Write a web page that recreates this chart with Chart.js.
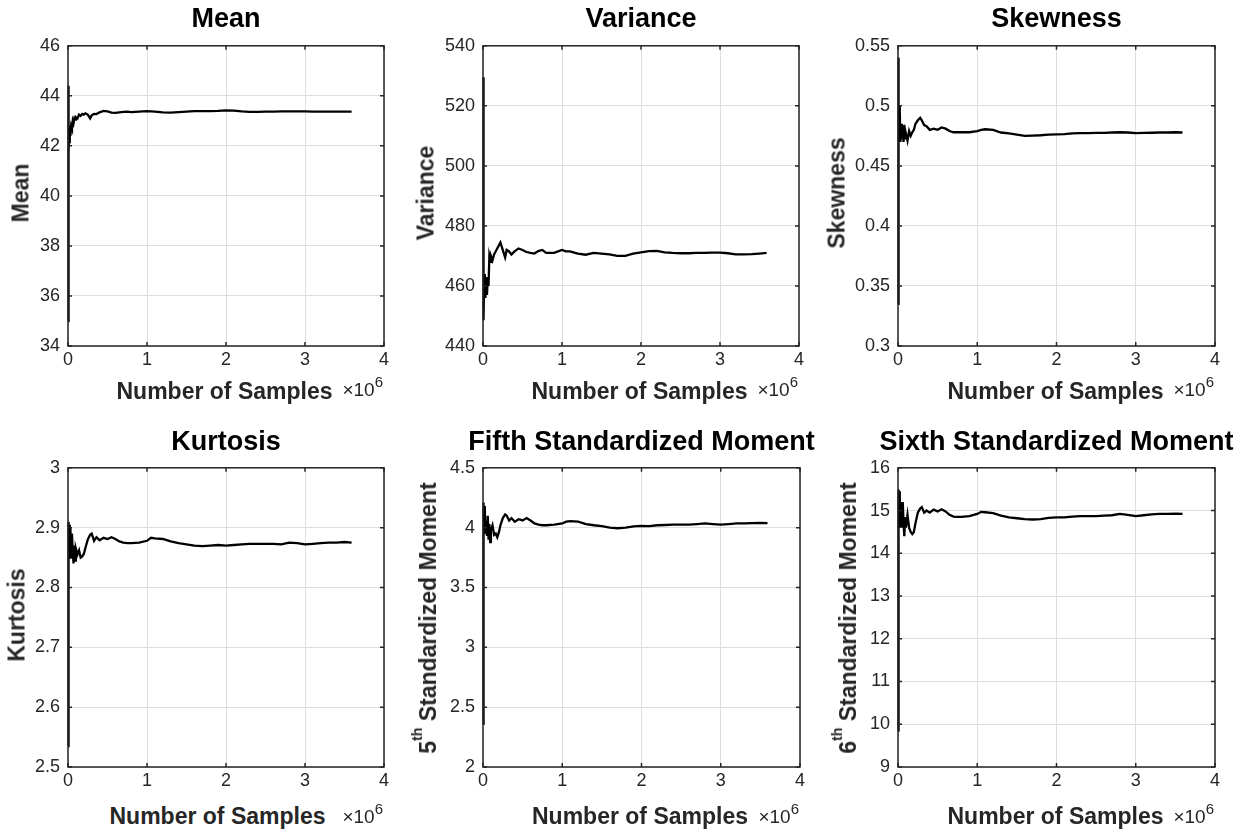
<!DOCTYPE html>
<html>
<head>
<meta charset="utf-8">
<script src="https://cdn.jsdelivr.net/npm/chart.js@4/dist/chart.umd.min.js"></script>
<style>
  html,body{margin:0;padding:0;background:#fff;}
  body{width:1250px;height:833px;position:relative;overflow:hidden;font-family:"Liberation Sans",Arial,sans-serif;}
  .ttl{position:absolute;font-weight:bold;font-size:27px;line-height:27px;color:#000;white-space:nowrap;transform:translateX(-50%);}
  .xl{position:absolute;font-weight:bold;font-size:23px;line-height:23px;color:#262626;white-space:nowrap;transform:translateX(-50%);}
  .ex{position:absolute;font-size:19px;line-height:19px;color:#262626;white-space:nowrap;transform:translateX(-100%);}
  .ex span{font-size:15px;position:relative;top:-9px;}
  .yl{position:absolute;font-weight:bold;font-size:23px;line-height:23px;color:#262626;white-space:nowrap;transform:translate(-50%,-50%) rotate(-90deg);}
  .yl .sup{font-size:14px;position:relative;top:-14px;}
</style>
</head>
<body>
<script>
// ---------------- DATA ----------------
// Number of samples (x 10^6)
const samples = [0.001, 0.003, 0.005, 0.008, 0.012, 0.016, 0.02, 0.025, 0.03, 0.04,
  0.05, 0.06, 0.07, 0.08, 0.09, 0.1, 0.12, 0.14, 0.16, 0.18,
  0.2, 0.22, 0.25, 0.28, 0.3, 0.33, 0.36, 0.4, 0.45, 0.5,
  0.55, 0.6, 0.65, 0.7, 0.75, 0.8, 0.9, 1.0, 1.05, 1.1,
  1.2, 1.3, 1.4, 1.5, 1.6, 1.7, 1.8, 1.9, 2.0, 2.1,
  2.2, 2.3, 2.4, 2.5, 2.6, 2.7, 2.8, 2.9, 3.0, 3.1,
  3.2, 3.3, 3.4, 3.5, 3.59];

const meanValues = [35.0, 44.4, 38.5, 43.6, 41.7, 42.8, 42.1, 42.7, 42.4, 42.8,
  42.7, 43.0, 42.9, 43.1, 43.05, 43.15, 43.1, 43.25, 43.2, 43.28,
  43.25, 43.3, 43.25, 43.1, 43.22, 43.28, 43.27, 43.34, 43.4, 43.38,
  43.33, 43.32, 43.34, 43.36, 43.37, 43.35, 43.37, 43.39, 43.38, 43.37,
  43.34, 43.33, 43.35, 43.37, 43.39, 43.39, 43.39, 43.4, 43.42, 43.41,
  43.38, 43.36, 43.36, 43.37, 43.37, 43.38, 43.38, 43.38, 43.38, 43.37,
  43.37, 43.37, 43.37, 43.37, 43.37];

const varianceValues = [449, 529.5, 452, 492, 449.5, 463, 458, 464, 456, 463,
  457, 462, 460, 469.5, 468, 470, 468.5, 470.5, 471.5, 472.5,
  473.5, 474.5, 472, 469.5, 472, 471.5, 470.5, 471.5, 472.5, 472,
  471.3, 471, 470.8, 471.6, 472, 471, 471, 472, 471.5, 471.5,
  470.8, 470.4, 471, 470.8, 470.5, 470, 470, 470.8, 471.2, 471.6,
  471.7, 471.2, 471, 470.9, 470.9, 471, 471, 471.1, 471.1, 470.9,
  470.5, 470.5, 470.6, 470.8, 471];

const skewnessValues = [0.335, 0.54, 0.43, 0.505, 0.47, 0.5, 0.478, 0.495, 0.47, 0.485,
  0.472, 0.482, 0.47, 0.484, 0.473, 0.477, 0.471, 0.479, 0.475, 0.478,
  0.48, 0.485, 0.488, 0.49, 0.488, 0.484, 0.483, 0.48, 0.481, 0.48,
  0.482, 0.481, 0.479, 0.478, 0.478, 0.478, 0.478, 0.479, 0.48, 0.4805,
  0.48, 0.4778, 0.477, 0.476, 0.475, 0.4752, 0.4755, 0.476, 0.4762, 0.4765,
  0.477, 0.4772, 0.4772, 0.4775, 0.4775, 0.4778, 0.478, 0.4778, 0.4772, 0.4775,
  0.4776, 0.4778, 0.4778, 0.478, 0.4778];

const kurtosisValues = [2.535, 2.73, 2.6, 2.88, 2.91, 2.85, 2.905, 2.86, 2.9, 2.85,
  2.89, 2.86, 2.84, 2.87, 2.845, 2.865, 2.855, 2.862, 2.85, 2.852,
  2.856, 2.866, 2.88, 2.888, 2.89, 2.878, 2.884, 2.879, 2.883, 2.881,
  2.884, 2.881, 2.877, 2.875, 2.874, 2.874, 2.875, 2.878, 2.883, 2.882,
  2.881, 2.877, 2.874, 2.872, 2.870, 2.869, 2.870, 2.871, 2.870, 2.871,
  2.872, 2.873, 2.873, 2.873, 2.873, 2.872, 2.875, 2.874, 2.872, 2.873,
  2.874, 2.875, 2.875, 2.876, 2.875];

const fifthValues = [2.36, 3.9, 3.2, 4.21, 3.95, 4.15, 3.98, 4.18, 3.95, 4.05,
  3.93, 4.1, 3.9, 4.03, 3.88, 3.98, 4.02, 3.94, 3.95, 3.92,
  3.96, 4.02, 4.08, 4.11, 4.1, 4.06, 4.08, 4.05, 4.07, 4.06,
  4.08, 4.06, 4.035, 4.025, 4.02, 4.02, 4.025, 4.035, 4.05, 4.055,
  4.05, 4.03, 4.02, 4.012, 4.0, 3.995, 4.0, 4.01, 4.015, 4.012,
  4.02, 4.022, 4.025, 4.025, 4.025, 4.03, 4.035, 4.03, 4.025, 4.03,
  4.035, 4.035, 4.038, 4.04, 4.038];

const sixthValues = [9.85, 12.5, 10.5, 15.49, 14.7, 15.45, 14.6, 15.3, 14.7, 15.2,
  14.6, 15.2, 14.7, 14.4, 14.85, 14.6, 14.9, 14.6, 14.5, 14.45,
  14.5, 14.7, 14.95, 15.05, 15.08, 14.95, 15.0, 14.95, 15.02, 14.98,
  15.03, 14.98, 14.9, 14.86, 14.85, 14.85, 14.87, 14.92, 14.97, 14.96,
  14.94, 14.88, 14.84, 14.82, 14.8, 14.79, 14.8, 14.83, 14.84, 14.84,
  14.86, 14.87, 14.87, 14.87, 14.88, 14.89, 14.92, 14.9, 14.87, 14.89,
  14.91, 14.92, 14.92, 14.93, 14.92];

// tick labels
const xTicks = [0, 1, 2, 3, 4];
const meanTicks = [34, 36, 38, 40, 42, 44, 46];
const varianceTicks = [440, 460, 480, 500, 520, 540];
const skewnessTicks = [0.3, 0.35, 0.4, 0.45, 0.5, 0.55];
const kurtosisTicks = [2.5, 2.6, 2.7, 2.8, 2.9, 3];
const fifthTicks = [2, 2.5, 3, 3.5, 4, 4.5];
const sixthTicks = [9, 10, 11, 12, 13, 14, 15, 16];

// texts
const titles = ['Mean', 'Variance', 'Skewness', 'Kurtosis', 'Fifth Standardized Moment', 'Sixth Standardized Moment'];
const yLabelPrefix = ['', '', '', '', '5', '6'];
const yLabelSup = ['', '', '', '', 'th', 'th'];
const yLabelMain = ['Mean', 'Variance', 'Skewness', 'Kurtosis', ' Standardized Moment', ' Standardized Moment'];
const xLabel = 'Number of Samples';
const xExponent = '6';

// ---------------- LAYOUT ----------------
const seriesList = [meanValues, varianceValues, skewnessValues, kurtosisValues, fifthValues, sixthValues];
const tickList = [meanTicks, varianceTicks, skewnessTicks, kurtosisTicks, fifthTicks, sixthTicks];
const boxes = [
  {L:68,  T:41,  R:384,  B:346},
  {L:483, T:41,  R:799,  B:346},
  {L:898, T:41,  R:1215, B:346},
  {L:68,  T:463, R:384,  B:767},
  {L:483, T:463, R:800,  B:767},
  {L:898, T:463, R:1215, B:767}
];
const titleTop = [4.8, 427.8];
const xLabelTop = [380, 804.5];
const expTop = [380, 807];
const yLabelX = [20.5, 425.5, 837, 17, 430, 850];
const yLabelY = [192.5, 192.5, 193, 615, 618, 618];
const xLabelShift = [-1.5, -1.5, -1, -8.5, -1.5, -1];

const PAD_L = 62, PAD_T = 14, PAD_R = 16, PAD_B = 34;
const tickFont = {family: '"Liberation Sans", Arial, sans-serif', size: 18};

const boxPlugin = {
  id: 'matlabBox',
  afterDatasetsDraw(chart) {
    const {ctx, chartArea: a, scales: {x, y}} = chart;
    const tl = 4;
    ctx.save();
    ctx.strokeStyle = '#262626';
    ctx.lineWidth = 1.5;
    ctx.beginPath();
    x.ticks.forEach(t => {
      const px = x.getPixelForValue(t.value);
      ctx.moveTo(px, a.bottom); ctx.lineTo(px, a.bottom - tl);
      ctx.moveTo(px, a.top); ctx.lineTo(px, a.top + tl);
    });
    y.ticks.forEach(t => {
      const py = y.getPixelForValue(t.value);
      ctx.moveTo(a.left, py); ctx.lineTo(a.left + tl, py);
      ctx.moveTo(a.right, py); ctx.lineTo(a.right - tl, py);
    });
    ctx.stroke();
    ctx.strokeRect(a.left, a.top, a.right - a.left, a.bottom - a.top);
    ctx.restore();
  }
};

function addDiv(cls, html, left, top) {
  const d = document.createElement('div');
  d.className = cls;
  d.innerHTML = html;
  d.style.left = left + 'px';
  d.style.top = top + 'px';
  document.body.appendChild(d);
  return d;
}

boxes.forEach((p, i) => {
  const row = i < 3 ? 0 : 1;
  const w = p.R - p.L + PAD_L + PAD_R;
  const h = p.B - p.T + PAD_T + PAD_B;
  const cv = document.createElement('canvas');
  cv.width = w; cv.height = h;
  cv.style.cssText = `position:absolute;left:${p.L - PAD_L}px;top:${p.T - PAD_T}px;width:${w}px;height:${h}px;`;
  document.body.appendChild(cv);

  const ticks = tickList[i];
  const vals = seriesList[i];
  new Chart(cv, {
    type: 'line',
    data: {
      datasets: [{
        data: samples.map((x, k) => ({x: x, y: vals[k]})),
        borderColor: '#000',
        borderWidth: 2.3,
        pointRadius: 0,
        tension: 0,
        fill: false,
        clip: 6
      }]
    },
    options: {
      responsive: false,
      animation: false,
      devicePixelRatio: 1,
      layout: {padding: {top: PAD_T, right: PAD_R, left: 0, bottom: 0}},
      plugins: {legend: {display: false}, tooltip: {enabled: false}, title: {display: false}},
      scales: {
        x: {
          type: 'linear',
          min: xTicks[0], max: xTicks[xTicks.length - 1],
          afterBuildTicks: s => { s.ticks = xTicks.map(v => ({value: v})); },
          afterFit: s => { s.height = PAD_B; },
          grid: {color: '#dedede', lineWidth: 1, drawTicks: false},
          border: {display: false},
          ticks: {padding: 3, font: tickFont, color: '#262626', maxRotation: 0, autoSkip: false,
                  callback: v => String(v)}
        },
        y: {
          type: 'linear',
          min: ticks[0], max: ticks[ticks.length - 1],
          afterBuildTicks: s => { s.ticks = ticks.map(v => ({value: v})); },
          afterFit: s => { s.width = PAD_L; },
          grid: {color: '#dedede', lineWidth: 1, drawTicks: false},
          border: {display: false},
          ticks: {padding: 8, font: tickFont, color: '#262626', autoSkip: false,
                  callback: v => String(v)}
        }
      }
    },
    plugins: [boxPlugin]
  });

  const cx = (p.L + p.R) / 2;
  addDiv('ttl', titles[i], cx, titleTop[row]);
  addDiv('xl', xLabel, cx + xLabelShift[i], xLabelTop[row]);
  addDiv('ex', '\u00d710<span>' + xExponent + '</span>', p.R - 1, expTop[row]);
  const yl = (yLabelPrefix[i] ? yLabelPrefix[i] + '<span class="sup">' + yLabelSup[i] + '</span>' : '') +
             yLabelMain[i].replace(/ /g, '&nbsp;');
  addDiv('yl', yl, yLabelX[i], yLabelY[i]);
});
</script>
</body>
</html>
